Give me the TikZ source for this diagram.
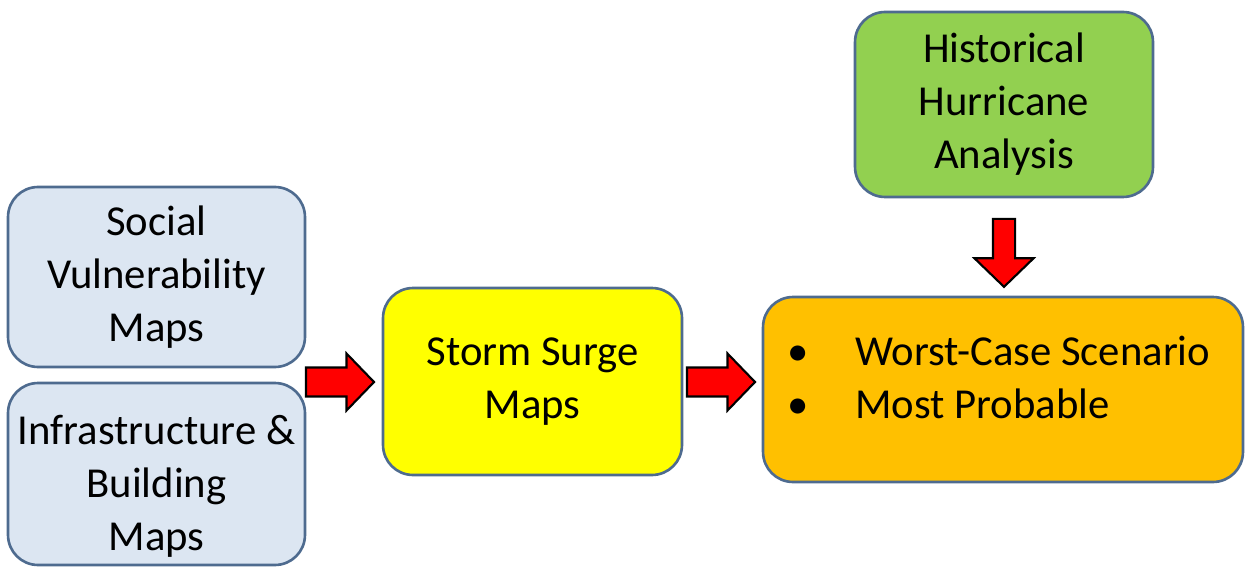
\documentclass[tikz,border=0pt]{standalone}
\usepackage{fontspec}
\setmainfont{Carlito}
\usetikzlibrary{shapes.arrows}
\definecolor{boxline}{HTML}{4E6B8F}
\definecolor{bluefill}{HTML}{DCE6F2}
\definecolor{greenfill}{HTML}{92D050}
\definecolor{yellowfill}{HTML}{FFFF00}
\definecolor{orangefill}{HTML}{FFC000}
\definecolor{arrowred}{HTML}{FF0000}
\tikzset{
  boxfont/.style={font=\fontsize{24.3}{30.2}\selectfont, text=black},
  box/.style={draw=boxline, line width=1.5pt, rounded corners=0.6cm, align=center,
    boxfont, inner sep=0pt},
  blockarrow/.style={single arrow, draw=black, fill=arrowred, line width=1.2pt,
    minimum height=1.36cm, minimum width=0pt, inner sep=0.27cm,
    single arrow head extend=0.28cm, single arrow tip angle=92},
}
\begin{document}
\begin{tikzpicture}[x=0.02cm,y=-0.02cm]
\useasboundingbox (0,0) rectangle (1246,567);
\node[box, fill=bluefill, minimum width=5.94cm, minimum height=3.6cm] (social) at (156.5,277) {Social\\Vulnerability\\Maps};
\node[box, fill=bluefill, minimum width=5.94cm, minimum height=3.64cm] (infra) at (156.5,474) {};
\node[boxfont, align=center, inner sep=0pt] (infratext) at (156.5,486) {Infrastructure \&\\Building\\Maps};
\node[box, fill=yellowfill, minimum width=5.98cm, minimum height=3.74cm] (storm) at (532.5,381.5) {Storm Surge\\Maps};
\node[box, fill=greenfill, minimum width=5.96cm, minimum height=3.7cm] (hist) at (1004,104.5) {Historical\\Hurricane\\Analysis};
\node[box, fill=orangefill, minimum width=9.6cm, minimum height=3.7cm] (worst) at (1003,389.5) {};
\node[anchor=west, align=left, inner sep=0pt, boxfont] (worsttext) at (787,377.5)
  {\makebox[1.36cm][l]{•}Worst-Case Scenario\\\makebox[1.36cm][l]{•}Most Probable};
\node[blockarrow] (a1) at (333,382) {};
\node[blockarrow] (a2) at (714,382) {};
\node[blockarrow, inner sep=0.2cm, single arrow head extend=0.37cm, shape border rotate=270] (a3) at (1004,247.5) {};
\end{tikzpicture}
\end{document}
